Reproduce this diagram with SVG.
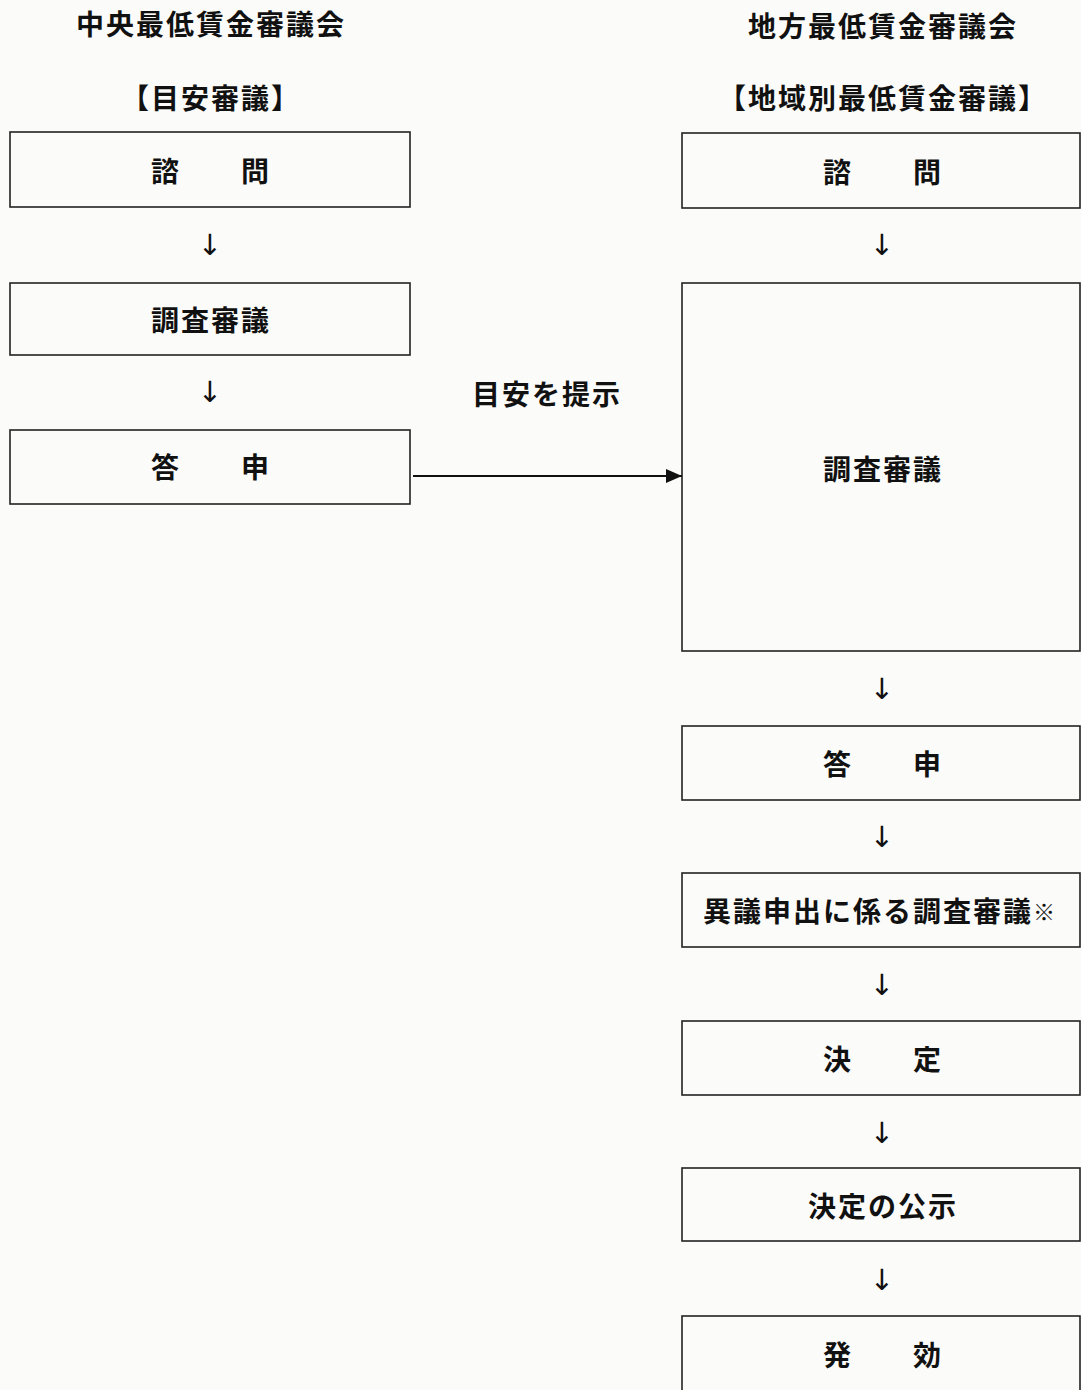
<svg xmlns="http://www.w3.org/2000/svg" width="1081" height="1390" viewBox="0 0 1081 1390">
<style>
.t{font-family:"Noto Sans CJK JP","Noto Sans CJK SC",sans-serif;font-size:28px;font-weight:700;fill:#111;text-anchor:middle;dominant-baseline:central;letter-spacing:2px}
.b{fill:none;stroke:#222;stroke-width:1.6}
.a{font-family:"DejaVu Sans",sans-serif;font-size:29px;fill:#111;text-anchor:middle;dominant-baseline:central}
</style>
<defs>
<marker id="ah" markerWidth="16" markerHeight="14" refX="16" refY="7" orient="auto" markerUnits="userSpaceOnUse">
<path d="M0,0 L16,7 L0,14 Z" fill="#111"/>
</marker>
</defs>
<rect width="1081" height="1390" fill="#fbfbf9"/>
<g id="title-left"><text class="t" x="211" y="23">中央最低賃金審議会</text><text class="t" x="211" y="97">【目安審議】</text></g>
<g id="title-right"><text class="t" x="883" y="25">地方最低賃金審議会</text><text class="t" x="883" y="97">【地域別最低賃金審議】</text></g>
<g id="L1"><rect class="b" x="10" y="132" width="400" height="75"/><text class="t" x="211" y="170">諮　　問</text></g>
<g id="L2"><rect class="b" x="10" y="283" width="400" height="72"/><text class="t" x="211" y="319">調査審議</text></g>
<g id="L3"><rect class="b" x="10" y="430" width="400" height="74"/><text class="t" x="211" y="466">答　　申</text></g>
<g id="R1"><rect class="b" x="682" y="133" width="398" height="75"/><text class="t" x="883" y="171">諮　　問</text></g>
<g id="R2"><rect class="b" x="682" y="283" width="398" height="368"/><text class="t" x="883" y="468">調査審議</text></g>
<g id="R3"><rect class="b" x="682" y="726" width="398" height="74"/><text class="t" x="883" y="763">答　　申</text></g>
<g id="R4"><rect class="b" x="682" y="873" width="398" height="74"/><text class="t" x="879" y="910">異議申出に係る調査審議<tspan font-size="22" letter-spacing="0">※</tspan></text></g>
<g id="R5"><rect class="b" x="682" y="1021" width="398" height="74"/><text class="t" x="883" y="1058">決　　定</text></g>
<g id="R6"><rect class="b" x="682" y="1168" width="398" height="73"/><text class="t" x="883" y="1205">決定の公示</text></g>
<g id="R7"><rect class="b" x="682" y="1316" width="398" height="80"/><text class="t" x="883" y="1354">発　　効</text></g>
<g id="connectors">
<text class="a" x="210" y="245">↓</text>
<text class="a" x="210" y="392">↓</text>
<text class="a" x="882" y="245">↓</text>
<text class="a" x="882" y="689">↓</text>
<text class="a" x="882" y="837">↓</text>
<text class="a" x="882" y="985">↓</text>
<text class="a" x="882" y="1133">↓</text>
<text class="a" x="882" y="1280">↓</text>
<line x1="413" y1="476" x2="682" y2="476" stroke="#111" stroke-width="2" marker-end="url(#ah)"/>
<text class="t" x="547" y="393">目安を提示</text>
</g>
</svg>
